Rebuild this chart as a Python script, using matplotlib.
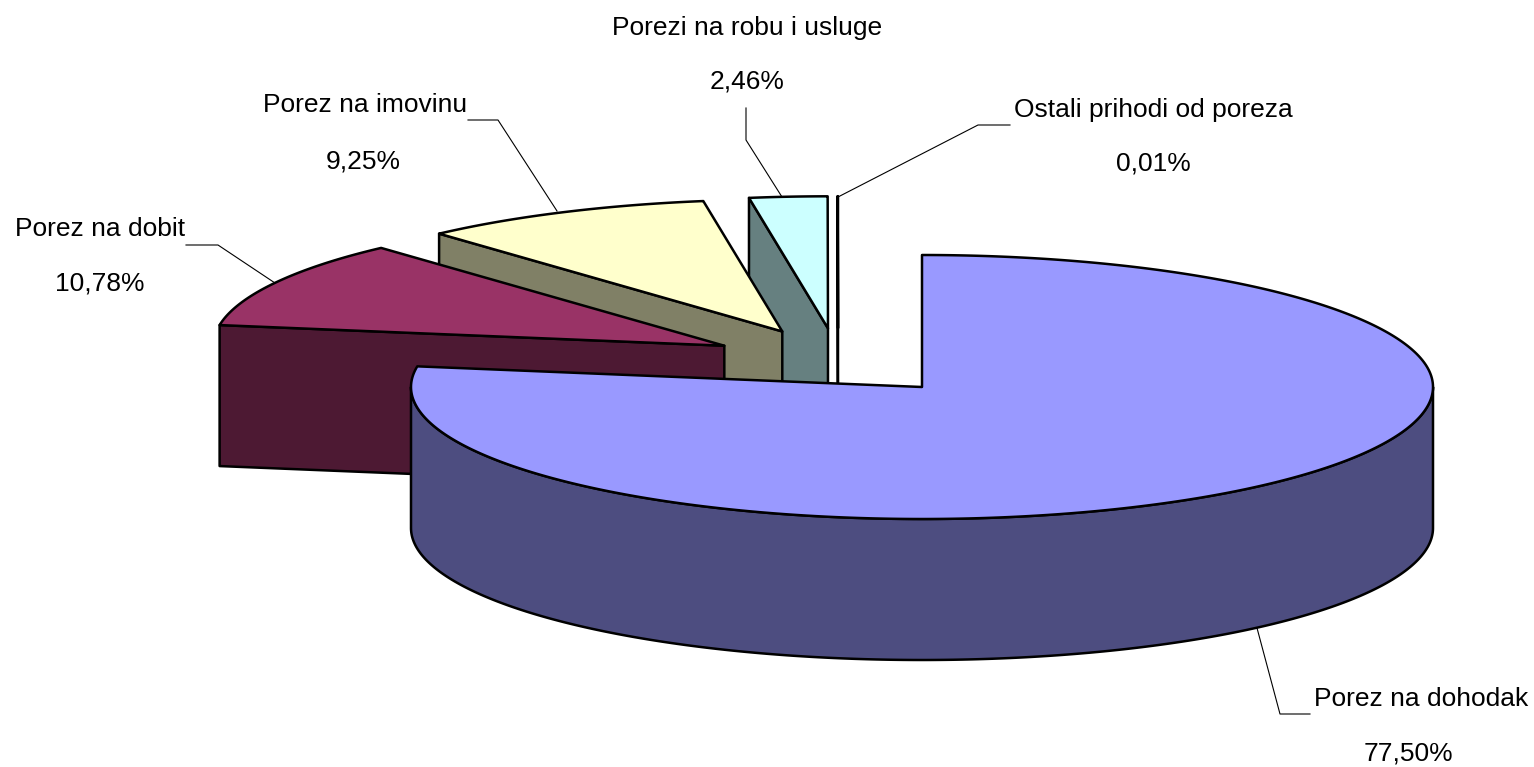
import numpy as np
import matplotlib
matplotlib.use("Agg")
import matplotlib.pyplot as plt

labels = ["Porez na dohodak", "Porez na dobit", "Porez na imovinu",
          "Porezi na robu i usluge", "Ostali prihodi od poreza"]
values = [77.50, 10.78, 9.25, 2.46, 0.01]
value_labels = ["77,50%", "10,78%", "9,25%", "2,46%", "0,01%"]
top_colors = ["#9999FF", "#993366", "#FFFFCC", "#CCFFFF", "#FFFFFF"]
side_colors = ["#4D4D80", "#4D1933", "#808066", "#668080", "#FFFFFF"]

# projection of the pie, in figure pixels
W, H = 1534, 767
first_centre = (922.0, 387.0)
RX, RY, DEPTH = 511.0, 132.0, 141.0
EXPLODE = 0.253
LW = 1.8

fracs = np.array(values) / sum(values)
edges = np.concatenate([[0], np.cumsum(fracs)]) * 2 * np.pi

def unit(t):
    return np.array([RX * np.sin(t), -RY * np.cos(t)])

mid0 = (edges[0] + edges[1]) / 2
base = np.array(first_centre) - EXPLODE * unit(mid0)

fig = plt.figure(figsize=(W / 100, H / 100), dpi=100)
ax = fig.add_axes([0, 0, 1, 1])
ax.set_xlim(0, W)
ax.set_ylim(H, 0)
ax.axis("off")

z = 1
def poly(pts, fc):
    global z
    ax.fill(pts[:, 0], pts[:, 1], facecolor=fc, edgecolor="black", lw=LW,
            joinstyle="round", zorder=z)
    z += 1

for i in range(len(values) - 1, -1, -1):
    a, b = edges[i], edges[i + 1]
    c = base + EXPLODE * unit((a + b) / 2)
    d = np.array([0, DEPTH])
    # radial cut faces that look towards the viewer
    for t, visible in ((a, np.sin(a) < -1e-9), (b, np.sin(b) > 1e-9)):
        if visible:
            p = c + unit(t)
            poly(np.array([c, p, p + d, c + d]), side_colors[i])
    # outer wall: front half of the rim
    lo, hi = max(a, np.pi / 2), min(b, 3 * np.pi / 2)
    if hi > lo:
        ts = np.linspace(lo, hi, 300)
        rim = np.array([c + unit(t) for t in ts])
        poly(np.vstack([rim, (rim + d)[::-1]]), side_colors[i])
    # top face
    ts = np.linspace(a, b, 400)
    rim = np.array([c + unit(t) for t in ts])
    poly(np.vstack([[c], rim]), top_colors[i])

# label anchors: name centre, value centre, leader polyline
name_pos = [(1421, 699), (100, 229), (365, 105), (747, 28), (1153, 110)]
value_pos = [(1408, 753), (100, 284), (363, 161), (747, 82), (1153, 163)]
leaders = [
    [(1310, 714), (1280, 714), (1257, 628)],
    [(186, 245), (218, 245), (275, 283)],
    [(468, 120), (498, 120), (557, 211)],
    [(746, 108), (746, 140), (782, 197)],
    [(1010, 125), (978, 125), (838, 197)],
]
for n, v, np_, vp, l in zip(labels, value_labels, name_pos, value_pos, leaders):
    ax.text(*np_, n, ha="center", va="center", fontsize=19, color="black",
            family="Liberation Sans", zorder=50)
    ax.text(*vp, v, ha="center", va="center", fontsize=19, color="black",
            family="Liberation Sans", zorder=50)
    l = np.array(l)
    ax.plot(l[:, 0], l[:, 1], color="black", lw=0.8, zorder=49)

fig.savefig("out.png", dpi=100, facecolor="white")
